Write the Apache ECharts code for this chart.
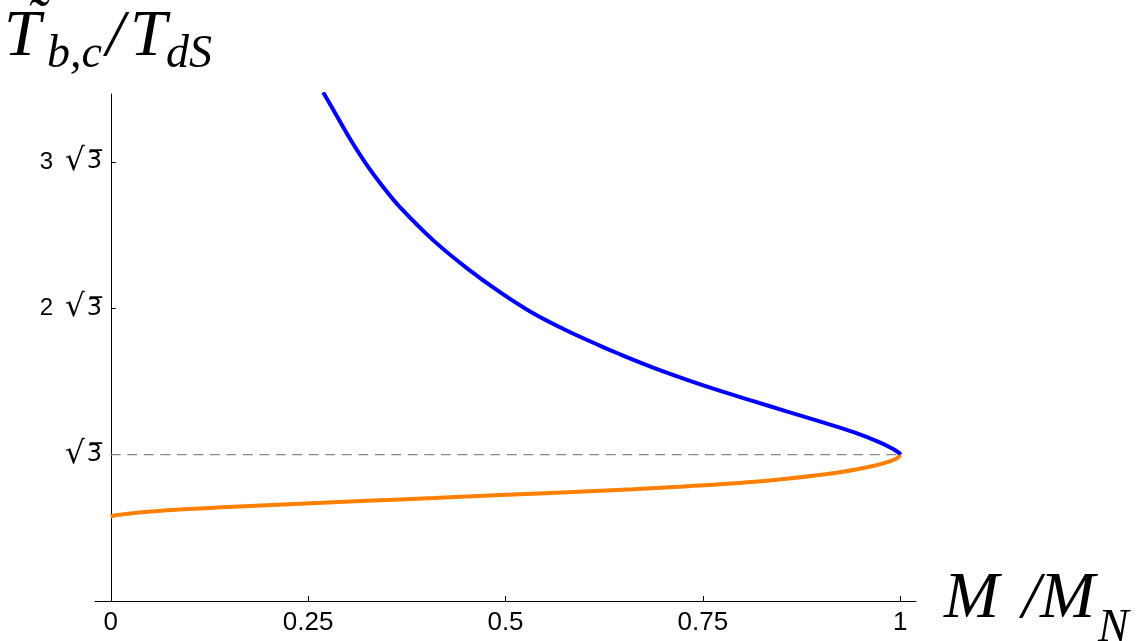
<!DOCTYPE html>
<html>
<head>
<meta charset="utf-8">
<script src="https://cdn.jsdelivr.net/npm/echarts@6/dist/echarts.min.js"></script>
<style>
html,body{margin:0;padding:0;background:#fff;}
#chart{width:1146px;height:641px;}
</style>
</head>
<body>
<div id="chart"></div>
<script>
// ---- data ----
const blueX = [0.269, 0.282, 0.303, 0.324, 0.345, 0.366, 0.409, 0.451, 0.493, 0.535, 0.578, 0.620, 0.645, 0.687, 0.730, 0.772, 0.814, 0.856, 0.898, 0.941, 0.974, 0.991, 0.999, 1.0];
const blueY = [6.02, 5.81, 5.47, 5.165, 4.90, 4.665, 4.265, 3.94, 3.655, 3.405, 3.198, 3.02, 2.92, 2.763, 2.618, 2.487, 2.365, 2.245, 2.125, 1.998, 1.878, 1.80, 1.75, 1.732];
const orangeX = [0, 0.008, 0.0285, 0.071, 0.155, 0.240, 0.324, 0.409, 0.493, 0.578, 0.662, 0.746, 0.831, 0.915, 0.958, 0.983, 0.996, 1.0];
const orangeY = [1.0, 1.018, 1.04, 1.075, 1.115, 1.152, 1.186, 1.219, 1.253, 1.287, 1.323, 1.366, 1.424, 1.511, 1.582, 1.641, 1.689, 1.732];
const refX = [0, 1];
const refY = [1.7320508, 1.7320508];
const xTickValues = [0, 0.25, 0.5, 0.75, 1];
const xTickLabels = ['0', '0.25', '0.5', '0.75', '1'];
const yTickValues = [1.7320508, 3.4641016, 5.1961524];
const yTickLabels = ['√3', '2 √3', '3 √3'];

function zip(a, b) { return a.map((v, i) => [v, b[i]]); }
function nearestIndex(arr, v) {
  let best = 0;
  for (let i = 1; i < arr.length; i++) if (Math.abs(arr[i] - v) < Math.abs(arr[best] - v)) best = i;
  return best;
}

const chart = echarts.init(document.getElementById('chart'), null, { renderer: 'canvas' });

const serif = '"Liberation Serif", "DejaVu Serif", serif';
const sans = '"Liberation Sans", Arial, sans-serif';
function txt(text, x, y, size) {
  return {
    type: 'text', silent: true,
    x: x, y: y,
    style: { text: text, font: 'italic ' + size + 'px ' + serif, fill: '#000',
             align: 'left', verticalAlign: 'middle', textAlign: 'left', textVerticalAlign: 'middle' }
  };
}

const option = {
  animation: false,
  backgroundColor: '#fff',
  grid: { left: 95, right: 230, top: 94, bottom: 40, containLabel: false },
  xAxis: {
    type: 'value', min: -0.02, max: 1.02,
    axisLine: { onZero: true, lineStyle: { color: '#000', width: 1 } },
    axisTick: { show: true, inside: true, length: 5, lineStyle: { color: '#000' }, customValues: xTickValues },
    axisLabel: {
      customValues: xTickValues, color: '#000', fontSize: 26,
      fontFamily: sans, margin: 9,
      formatter: v => xTickLabels[nearestIndex(xTickValues, v)]
    },
    splitLine: { show: false }
  },
  yAxis: {
    type: 'value', min: 0, max: 6.0,
    axisLine: { onZero: true, lineStyle: { color: '#000', width: 1 } },
    axisTick: { show: true, inside: true, length: 5, lineStyle: { color: '#000' }, customValues: yTickValues },
    axisLabel: {
      customValues: yTickValues, color: '#000', margin: -7,
      fontFamily: sans, fontSize: 24,
      formatter: v => {
        const s = yTickLabels[nearestIndex(yTickValues, v)];
        const parts = s.split('√');
        const pre = parts[0].trim();
        return (pre ? '{n|' + pre + '}' : '') + '{r|√}{o|' + parts[1] + '\u0305}';
      },
      rich: {
        n: { fontSize: 24, color: '#000', fontFamily: sans, padding: [0, 12, 0, 0] },
        r: { fontSize: 31, color: '#000', fontFamily: '"DejaVu Sans", sans-serif', padding: [0, 2, 0, 0] },
        o: { fontSize: 24, color: '#000', fontFamily: '"DejaVu Sans", sans-serif' }
      }
    },
    splitLine: { show: false }
  },
  graphic: [
    txt('T', 4, 38, 66),
    txt('\u02DC', 26, 22, 60),
    txt('b,c', 47, 55, 46),
    txt('/', 106, 38, 66),
    txt('T', 130, 38, 66),
    txt('dS', 166, 55, 46),
    txt('M', 944, 600, 66),
    txt('/', 1022, 600, 66),
    txt('M', 1040, 600, 66),
    txt('N', 1098, 629, 46)
  ],
  series: [
    {
      type: 'line', data: zip(refX, refY), showSymbol: false, silent: true, z: 1,
      lineStyle: { color: '#888', width: 1.2, type: [10, 6.5] }
    },
    {
      type: 'line', data: zip(orangeX, orangeY), showSymbol: false, smooth: 0.35, z: 2,
      lineStyle: { color: '#ff8000', width: 4 }
    },
    {
      type: 'line', data: zip(blueX, blueY), showSymbol: false, smooth: 0.35, z: 3,
      lineStyle: { color: '#0000ff', width: 4 }
    }
  ]
};
chart.setOption(option);
</script>
</body>
</html>
